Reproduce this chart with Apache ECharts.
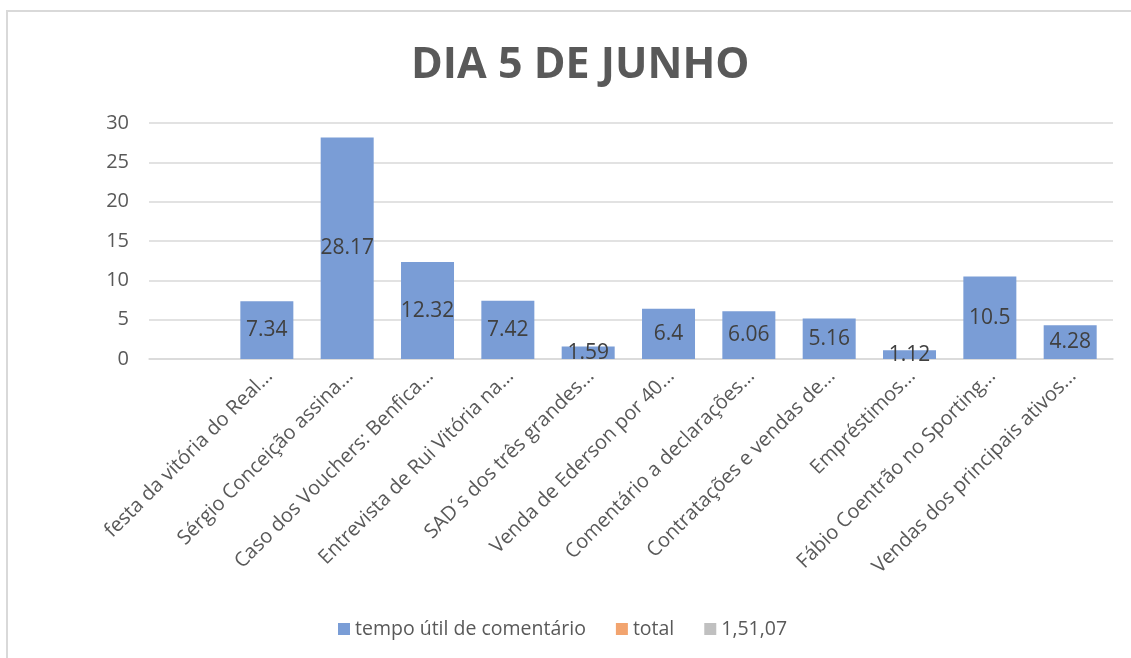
<!DOCTYPE html>
<html>
<head>
<meta charset="utf-8">
<script src="https://cdn.jsdelivr.net/npm/echarts@6/dist/echarts.min.js"></script>
<style>
  html, body { margin: 0; padding: 0; background: #fff; overflow: hidden; }
  #chart { width: 1131px; height: 658px; }
</style>
</head>
<body>
<div id="chart"></div>
<script>
// categories (first slot is empty in the original sheet)
const categories = [
  '',
  'festa da vitória do Real...',
  'Sérgio Conceição assina...',
  'Caso dos Vouchers: Benfica...',
  'Entrevista de Rui Vitória na...',
  'SAD\u00b4s dos três grandes...',
  'Venda de Ederson por 40...',
  'Comentário a declarações...',
  'Contratações e vendas de...',
  'Empréstimos...',
  'Fábio Coentrão no Sporting...',
  'Vendas dos principais ativos...'
];
const tempoUtil = [null, 7.34, 28.17, 12.32, 7.42, 1.59, 6.4, 6.06, 5.16, 1.12, 10.5, 4.28];
const total = [];
const outro = [];

const font = '"Open Sans", sans-serif';
const grey = '#595959';

const chart = echarts.init(document.getElementById('chart'));
chart.setOption({
  animation: false,
  textStyle: { fontFamily: font },
  graphic: [{
    type: 'rect',
    shape: { x: 7, y: 11, width: 1300, height: 800 },
    style: { fill: 'none', stroke: '#D9D9D9', lineWidth: 2 },
    silent: true
  }],
  title: {
    text: 'DIA 5 DE JUNHO',
    left: 406,
    top: 39,
    textStyle: { fontFamily: font, fontSize: 43, fontWeight: 'bold', color: grey }
  },
  legend: {
    bottom: 14,
    left: 333,
    itemWidth: 12,
    itemHeight: 12,
    itemGap: 30,
    icon: 'rect',
    textStyle: { fontFamily: font, fontSize: 19.5, color: grey },
    data: ['tempo útil de comentário', 'total', '1,51,07']
  },
  grid: { left: 149, right: 18, top: 123, bottom: 299 },
  xAxis: {
    type: 'category',
    data: categories,
    axisLine: { lineStyle: { color: '#D9D9D9', width: 1.5 } },
    axisTick: { show: false },
    axisLabel: {
      interval: 0,
      rotate: 45,
      margin: 14,
      fontFamily: font,
      fontSize: 20,
      color: grey
    }
  },
  yAxis: {
    type: 'value',
    min: 0,
    max: 30,
    interval: 5,
    axisLine: { show: false },
    axisTick: { show: false },
    splitLine: { lineStyle: { color: '#D9D9D9', width: 1.5 } },
    axisLabel: { margin: 20, fontFamily: font, fontSize: 20, color: grey }
  },
  series: [
    {
      name: 'tempo útil de comentário',
      type: 'bar',
      data: tempoUtil,
      barWidth: 53,
      itemStyle: { color: '#7A9DD6' },
      label: {
        show: true,
        position: 'inside',
        fontFamily: font,
        fontSize: 21,
        color: '#404040'
      }
    },
    { name: 'total', type: 'bar', data: total, itemStyle: { color: '#F2A46F' } },
    { name: '1,51,07', type: 'bar', data: outro, itemStyle: { color: '#C0C0C0' } }
  ]
});
</script>
</body>
</html>
